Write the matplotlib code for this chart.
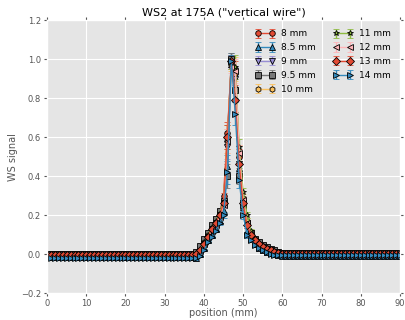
import matplotlib
matplotlib.use("Agg")
import matplotlib.pyplot as plt
import numpy as np

plt.style.use("ggplot")

## positions 0..90 mm, 1 mm steps
pos = np.arange(0, 91)

labels = ["8 mm", "8.5 mm", "9 mm", "9.5 mm", "10 mm",
          "11 mm", "12 mm", "13 mm", "14 mm"]
markers = ["o", "^", "v", "s", "h", "*", "<", "D", ">"]
colors = ["#E24A33", "#348ABD", "#988ED5", "#777777", "#FBC15E",
          "#8EBA42", "#FFB5B8", "#E24A33", "#348ABD"]

## flat levels left of 38 mm and right of 62 mm
base_left = [-0.005, -0.015, -0.008, 0.003, -0.004, -0.002, -0.006, -0.004, -0.018]
base_right = [0.0, -0.008, -0.002, 0.004, 0.0, 0.002, -0.001, 0.0, -0.006]

## peak region 38..62 mm
peak = [
    [0.00, 0.02, 0.06, 0.10, 0.13, 0.16, 0.21, 0.30, 0.62, 0.98, 0.93, 0.50, 0.27, 0.16, 0.10, 0.07, 0.05, 0.04, 0.03, 0.02, 0.015, 0.01, 0.005, 0.0, 0.0],
    [-0.02, 0.0, 0.03, 0.07, 0.10, 0.13, 0.17, 0.22, 0.45, 1.00, 0.86, 0.44, 0.24, 0.12, 0.08, 0.05, 0.03, 0.02, 0.01, 0.005, 0.0, -0.005, -0.008, -0.008, -0.008],
    [-0.01, 0.01, 0.05, 0.09, 0.12, 0.15, 0.19, 0.25, 0.55, 0.99, 0.90, 0.46, 0.26, 0.15, 0.09, 0.06, 0.04, 0.03, 0.02, 0.01, 0.005, 0.0, 0.0, -0.002, -0.002],
    [0.01, 0.04, 0.08, 0.11, 0.15, 0.18, 0.22, 0.27, 0.40, 1.00, 0.84, 0.40, 0.25, 0.16, 0.11, 0.08, 0.06, 0.045, 0.035, 0.025, 0.02, 0.012, 0.008, 0.005, 0.004],
    [0.0, 0.02, 0.06, 0.10, 0.13, 0.16, 0.20, 0.26, 0.58, 0.97, 0.95, 0.52, 0.29, 0.17, 0.10, 0.07, 0.05, 0.035, 0.025, 0.02, 0.01, 0.005, 0.002, 0.0, 0.0],
    [0.0, 0.02, 0.06, 0.10, 0.14, 0.17, 0.21, 0.27, 0.60, 0.98, 0.96, 0.55, 0.32, 0.20, 0.12, 0.08, 0.055, 0.04, 0.03, 0.02, 0.012, 0.008, 0.004, 0.002, 0.002],
    [-0.005, 0.015, 0.05, 0.09, 0.12, 0.15, 0.19, 0.25, 0.58, 0.96, 0.94, 0.52, 0.28, 0.16, 0.10, 0.07, 0.045, 0.03, 0.02, 0.015, 0.01, 0.005, 0.0, -0.001, -0.001],
    [0.0, 0.02, 0.05, 0.09, 0.13, 0.16, 0.20, 0.26, 0.60, 0.99, 0.79, 0.46, 0.26, 0.15, 0.10, 0.07, 0.05, 0.035, 0.025, 0.02, 0.01, 0.005, 0.002, 0.0, 0.0],
    [-0.02, -0.01, 0.02, 0.06, 0.09, 0.12, 0.16, 0.20, 0.42, 0.99, 0.72, 0.38, 0.20, 0.10, 0.07, 0.045, 0.03, 0.02, 0.01, 0.003, -0.002, -0.005, -0.006, -0.006, -0.006],
]

## error bars in the peak region, small elsewhere
err_peak = [0.003, 0.004, 0.005, 0.005, 0.006, 0.008, 0.01, 0.015, 0.06, 0.03, 0.06, 0.04, 0.02, 0.015, 0.01, 0.008, 0.006, 0.005, 0.004, 0.004, 0.003, 0.003, 0.003, 0.003, 0.003]
err_flat = 0.003

fig = plt.figure(figsize=(4.06, 3.2), dpi=100)
ax = fig.add_axes([0.116, 0.084, 0.869, 0.853])

for i in range(len(labels)):
    vals = [base_left[i]] * 38 + peak[i] + [base_right[i]] * 28
    errs = [err_flat] * 38 + err_peak + [err_flat] * 28
    ax.errorbar(pos, vals, yerr=errs, marker=markers[i], color=colors[i],
                mec="k", mew=0.6, ms=4, lw=1, capsize=2,
                label=labels[i])

ax.set_xlim(0, 90)
ax.set_ylim(-0.2, 1.2)
ax.set_xticks(np.arange(0, 91, 10))
ax.set_yticks(np.arange(-0.2, 1.21, 0.2))
ax.tick_params(direction="out", top=True, right=True, labelsize=6,
               colors="#555555", length=2.5, pad=2)
ax.set_title('WS2 at 175A ("vertical wire")', fontsize=8, pad=3)
ax.set_xlabel("position (mm)", fontsize=7, color="#555555", labelpad=0)
ax.set_ylabel("WS signal", fontsize=7, color="#555555", labelpad=2)

leg = ax.legend(ncol=2, frameon=False, numpoints=2, fontsize=6.5,
                loc="upper right", handlelength=2.1, columnspacing=2.0,
                labelspacing=0.55, borderaxespad=0.6, handletextpad=0.7,
                markerscale=1.0)

fig.savefig("out.png", dpi=100)
